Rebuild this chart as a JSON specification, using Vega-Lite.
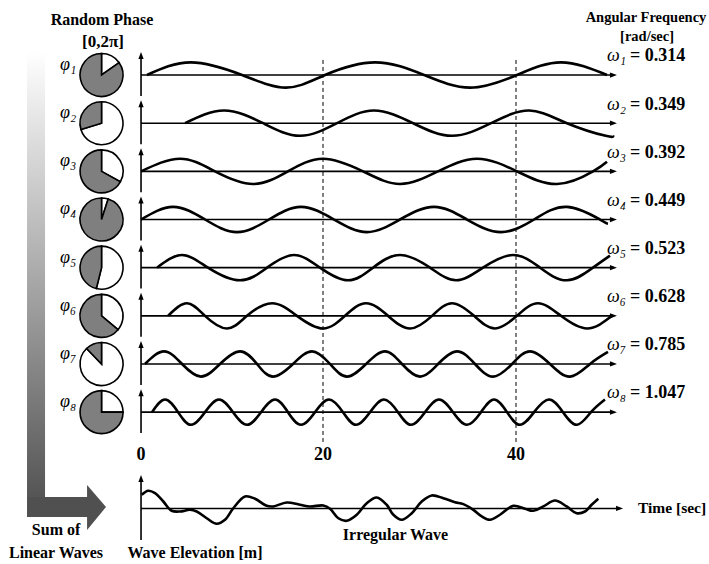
{
  "$schema": "https://vega.github.io/schema/vega-lite/v6.json",
  "width": 709,
  "height": 564,
  "padding": 0,
  "autosize": {"type": "none"},
  "background": "white",
  "config": {"view": {"stroke": null}},
  "datasets": {
    "waves": [
      {"w":1,"t":0.66,"y":36},{"w":1,"t":5.49,"y":37.05},{"w":1,"t":11.10,"y":36},{"w":1,"t":15.93,"y":34.95},{"w":1,"t":20.21,"y":36},{"w":1,"t":25.39,"y":37.05},{"w":1,"t":30.47,"y":36},{"w":1,"t":35.23,"y":34.95},{"w":1,"t":40.10,"y":36},{"w":1,"t":44.66,"y":37.05},{"w":1,"t":49.43,"y":36},
      {"w":2,"t":4.84,"y":32},{"w":2,"t":9.12,"y":33.05},{"w":2,"t":13.41,"y":32},{"w":2,"t":17.47,"y":30.95},{"w":2,"t":21.45,"y":32},{"w":2,"t":25.28,"y":33.05},{"w":2,"t":29.33,"y":32},{"w":2,"t":33.37,"y":30.95},{"w":2,"t":37.41,"y":32},{"w":2,"t":41.35,"y":33.05},{"w":2,"t":45.28,"y":32},{"w":2,"t":49.3,"y":30.95},{"w":2,"t":50.05,"y":30.98},
      {"w":3,"t":0,"y":28},{"w":3,"t":4.29,"y":29.05},{"w":3,"t":8.13,"y":28},{"w":3,"t":12.31,"y":26.95},{"w":3,"t":16.15,"y":28},{"w":3,"t":20,"y":29.05},{"w":3,"t":24.15,"y":28},{"w":3,"t":27.98,"y":26.95},{"w":3,"t":31.92,"y":28},{"w":3,"t":35.96,"y":29.05},{"w":3,"t":40.10,"y":28},{"w":3,"t":44.25,"y":26.95},{"w":3,"t":47.98,"y":28},{"w":3,"t":49.43,"y":28.8},
      {"w":4,"t":0,"y":24},{"w":4,"t":3.52,"y":25.05},{"w":4,"t":7.03,"y":24},{"w":4,"t":10.55,"y":22.95},{"w":4,"t":14.07,"y":24},{"w":4,"t":17.58,"y":25.05},{"w":4,"t":21.14,"y":24},{"w":4,"t":24.56,"y":22.95},{"w":4,"t":27.98,"y":24},{"w":4,"t":31.50,"y":25.05},{"w":4,"t":34.92,"y":24},{"w":4,"t":38.45,"y":22.95},{"w":4,"t":41.87,"y":24},{"w":4,"t":45.28,"y":25.05},{"w":4,"t":48.70,"y":24},{"w":4,"t":49.53,"y":23.65},
      {"w":5,"t":1.76,"y":20},{"w":5,"t":4.51,"y":21.05},{"w":5,"t":7.36,"y":20},{"w":5,"t":10.88,"y":18.95},{"w":5,"t":13.85,"y":20},{"w":5,"t":16.81,"y":21.05},{"w":5,"t":19.67,"y":20},{"w":5,"t":22.59,"y":18.95},{"w":5,"t":25.18,"y":20},{"w":5,"t":27.98,"y":21.05},{"w":5,"t":31.09,"y":20},{"w":5,"t":33.78,"y":18.95},{"w":5,"t":36.58,"y":20},{"w":5,"t":39.69,"y":21.05},{"w":5,"t":42.49,"y":20},{"w":5,"t":45.28,"y":18.95},{"w":5,"t":47.98,"y":20},{"w":5,"t":49.74,"y":21.0},
      {"w":6,"t":2.97,"y":16},{"w":6,"t":5.05,"y":17.05},{"w":6,"t":7.03,"y":16},{"w":6,"t":9.45,"y":14.95},{"w":6,"t":11.65,"y":16},{"w":6,"t":14.40,"y":17.05},{"w":6,"t":17.14,"y":16},{"w":6,"t":20,"y":14.95},{"w":6,"t":22.28,"y":16},{"w":6,"t":24.46,"y":17.05},{"w":6,"t":26.74,"y":16},{"w":6,"t":29.02,"y":14.95},{"w":6,"t":31.30,"y":16},{"w":6,"t":33.37,"y":17.05},{"w":6,"t":35.65,"y":16},{"w":6,"t":37.82,"y":14.95},{"w":6,"t":40.10,"y":16},{"w":6,"t":42.28,"y":17.05},{"w":6,"t":44.66,"y":16},{"w":6,"t":47.36,"y":14.95},{"w":6,"t":49.95,"y":16},
      {"w":7,"t":0.44,"y":12},{"w":7,"t":2.53,"y":13.05},{"w":7,"t":4.51,"y":12},{"w":7,"t":6.59,"y":10.95},{"w":7,"t":8.68,"y":12},{"w":7,"t":10.88,"y":13.05},{"w":7,"t":12.75,"y":12},{"w":7,"t":14.51,"y":10.95},{"w":7,"t":16.70,"y":12},{"w":7,"t":18.79,"y":13.05},{"w":7,"t":20.73,"y":12},{"w":7,"t":22.49,"y":10.95},{"w":7,"t":24.46,"y":12},{"w":7,"t":26.42,"y":13.05},{"w":7,"t":28.19,"y":12},{"w":7,"t":30.05,"y":10.95},{"w":7,"t":31.92,"y":12},{"w":7,"t":33.89,"y":13.05},{"w":7,"t":35.75,"y":12},{"w":7,"t":37.62,"y":10.95},{"w":7,"t":39.59,"y":12},{"w":7,"t":41.45,"y":13.05},{"w":7,"t":43.52,"y":12},{"w":7,"t":45.60,"y":10.95},{"w":7,"t":47.67,"y":12},{"w":7,"t":49.53,"y":13.0},
      {"w":8,"t":1.21,"y":8},{"w":8,"t":2.64,"y":9.05},{"w":8,"t":4.07,"y":8},{"w":8,"t":5.49,"y":6.95},{"w":8,"t":7.03,"y":8},{"w":8,"t":8.57,"y":9.05},{"w":8,"t":10.11,"y":8},{"w":8,"t":11.65,"y":6.95},{"w":8,"t":13.19,"y":8},{"w":8,"t":14.73,"y":9.05},{"w":8,"t":16.15,"y":8},{"w":8,"t":17.58,"y":6.95},{"w":8,"t":19.12,"y":8},{"w":8,"t":20.62,"y":9.05},{"w":8,"t":22.07,"y":8},{"w":8,"t":23.42,"y":6.95},{"w":8,"t":24.87,"y":8},{"w":8,"t":26.32,"y":9.05},{"w":8,"t":27.77,"y":8},{"w":8,"t":29.12,"y":6.95},{"w":8,"t":30.57,"y":8},{"w":8,"t":32.02,"y":9.05},{"w":8,"t":33.47,"y":8},{"w":8,"t":34.92,"y":6.95},{"w":8,"t":36.37,"y":8},{"w":8,"t":37.72,"y":9.05},{"w":8,"t":39.07,"y":8},{"w":8,"t":40.41,"y":6.95},{"w":8,"t":41.87,"y":8},{"w":8,"t":43.42,"y":9.05},{"w":8,"t":44.87,"y":8},{"w":8,"t":46.32,"y":6.95},{"w":8,"t":47.77,"y":8},{"w":8,"t":49.22,"y":9.05}
    ],
    "irregular": [
      {"t":0.08,"y":1.14},{"t":0.80,"y":1.47},{"t":1.54,"y":1.27},{"t":2.45,"y":0.58},{"t":3.37,"y":-0.19},{"t":4.29,"y":-0.25},{"t":5.38,"y":-0.11},{"t":6.12,"y":-0.25},{"t":7.22,"y":-0.81},{"t":8.32,"y":-1.27},{"t":9.23,"y":-0.94},{"t":10.14,"y":0.02},{"t":11.43,"y":1.0},{"t":12.53,"y":0.81},{"t":13.81,"y":0.22},{"t":14.54,"y":0.17},{"t":16.01,"y":0.50},{"t":17.47,"y":0.31},{"t":18.57,"y":0.17},{"t":20.03,"y":0.25},{"t":20.73,"y":-0.02},{"t":21.59,"y":-0.81},{"t":22.46,"y":-1.02},{"t":23.50,"y":-0.52},{"t":24.53,"y":0.44},{"t":25.57,"y":0.91},{"t":26.60,"y":0.31},{"t":27.29,"y":-0.52},{"t":28.16,"y":-0.94},{"t":29.20,"y":-0.39},{"t":30.23,"y":0.58},{"t":31.27,"y":1.08},{"t":32.47,"y":0.86},{"t":33.68,"y":0.52},{"t":34.54,"y":0.36},{"t":35.58,"y":-0.11},{"t":36.45,"y":-0.66},{"t":37.31,"y":-0.94},{"t":38.34,"y":-0.52},{"t":39.72,"y":0.22},{"t":40.93,"y":-0.02},{"t":41.79,"y":-0.19},{"t":42.83,"y":0.17},{"t":44.04,"y":0.66},{"t":45.25,"y":0.17},{"t":46.29,"y":-0.39},{"t":47.15,"y":-0.25},{"t":47.84,"y":0.31},{"t":48.53,"y":0.81}
    ],
    "haxes": [
      {"t":0,"t2":50.1,"y":36},{"t":0,"t2":50.1,"y":32},{"t":0,"t2":50.1,"y":28},{"t":0,"t2":50.1,"y":24},{"t":0,"t2":50.1,"y":20},{"t":0,"t2":50.1,"y":16},{"t":0,"t2":50.1,"y":12},{"t":0,"t2":50.1,"y":8},{"t":0,"t2":50.73,"y":0}
    ],
    "vaxes": [
      {"t":0,"y":34.26,"y2":37.62},{"t":0,"y":30.26,"y2":33.62},{"t":0,"y":26.26,"y2":29.62},{"t":0,"y":22.26,"y2":25.62},{"t":0,"y":18.26,"y2":21.62},{"t":0,"y":14.26,"y2":17.62},{"t":0,"y":10.26,"y2":13.62},{"t":0,"y":6.26,"y2":9.62},{"t":0,"y":-2.62,"y2":2.49}
    ],
    "rarrows": [
      {"t":50.1,"y":36},{"t":50.1,"y":32},{"t":50.1,"y":28},{"t":50.1,"y":24},{"t":50.1,"y":20},{"t":50.1,"y":16},{"t":50.1,"y":12},{"t":50.1,"y":8},{"t":50.73,"y":0}
    ],
    "uarrows": [
      {"t":0,"y":37.62},{"t":0,"y":33.62},{"t":0,"y":29.62},{"t":0,"y":25.62},{"t":0,"y":21.62},{"t":0,"y":17.62},{"t":0,"y":13.62},{"t":0,"y":9.62},{"t":0,"y":2.49}
    ],
    "dashes": [
      {"t":20,"y":37.25,"y2":5.5},{"t":40,"y":37.25,"y2":5.5}
    ],
    "pies": [
      {"k":1,"t":-4.34,"y":36,"a0":0,"a1":0.960,"part":"rest"},{"k":1,"t":-4.34,"y":36,"a0":0.960,"a1":6.2832,"part":"phase"},
      {"k":2,"t":-4.34,"y":32,"a0":0,"a1":4.416,"part":"rest"},{"k":2,"t":-4.34,"y":32,"a0":4.416,"a1":6.2832,"part":"phase"},
      {"k":3,"t":-4.34,"y":28,"a0":0,"a1":2.077,"part":"rest"},{"k":3,"t":-4.34,"y":28,"a0":2.077,"a1":6.2832,"part":"phase"},
      {"k":4,"t":-4.34,"y":24,"a0":0,"a1":0.314,"part":"rest"},{"k":4,"t":-4.34,"y":24,"a0":0.314,"a1":6.2832,"part":"phase"},
      {"k":5,"t":-4.34,"y":20,"a0":0,"a1":3.386,"part":"rest"},{"k":5,"t":-4.34,"y":20,"a0":3.386,"a1":6.2832,"part":"phase"},
      {"k":6,"t":-4.34,"y":16,"a0":0,"a1":2.269,"part":"rest"},{"k":6,"t":-4.34,"y":16,"a0":2.269,"a1":6.2832,"part":"phase"},
      {"k":7,"t":-4.34,"y":12,"a0":0,"a1":5.515,"part":"rest"},{"k":7,"t":-4.34,"y":12,"a0":5.515,"a1":6.2832,"part":"phase"},
      {"k":8,"t":-4.34,"y":8,"a0":0,"a1":1.571,"part":"rest"},{"k":8,"t":-4.34,"y":8,"a0":1.571,"a1":6.2832,"part":"phase"}
    ],
    "phis": [
      {"label":"φ₁","t":-8.9,"y":36.84},{"label":"φ₂","t":-8.9,"y":32.84},{"label":"φ₃","t":-8.9,"y":28.84},{"label":"φ₄","t":-8.9,"y":24.84},{"label":"φ₅","t":-8.9,"y":20.84},{"label":"φ₆","t":-8.9,"y":16.84},{"label":"φ₇","t":-8.9,"y":12.84},{"label":"φ₈","t":-8.9,"y":8.84}
    ],
    "omegas": [
      {"label":"ω₁","t":49.43,"y":37.55},{"label":"ω₂","t":49.43,"y":33.55},{"label":"ω₃","t":49.43,"y":29.55},{"label":"ω₄","t":49.43,"y":25.55},{"label":"ω₅","t":49.43,"y":21.55},{"label":"ω₆","t":49.43,"y":17.55},{"label":"ω₇","t":49.43,"y":13.55},{"label":"ω₈","t":49.43,"y":9.55}
    ],
    "freqs": [
      {"label":"= 0.314","t":51.81,"y":37.55},{"label":"= 0.349","t":51.81,"y":33.55},{"label":"= 0.392","t":51.81,"y":29.55},{"label":"= 0.449","t":51.81,"y":25.55},{"label":"= 0.523","t":51.81,"y":21.55},{"label":"= 0.628","t":51.81,"y":17.55},{"label":"= 0.785","t":51.81,"y":13.55},{"label":"= 1.047","t":51.81,"y":9.55}
    ],
    "titles16": [
      {"label":"Random Phase","t":-4.29,"y":40.57},{"label":"Sum of","t":-9.34,"y":-1.79},{"label":"Linear Waves","t":-9.34,"y":-3.67},{"label":"Wave Elevation [m]","t":5.93,"y":-3.67},{"label":"Irregular Wave","t":27.51,"y":-2.2}
    ],
    "titles14": [
      {"label":"Angular Frequency","t":53.47,"y":40.74},{"label":"[rad/sec]","t":53.58,"y":39.16}
    ],
    "phaserange": [{"label":"[0,2π]","t":-4.18,"y":38.75}],
    "ticks": [{"label":"0","t":0,"y":4.44},{"label":"20","t":20,"y":4.44},{"label":"40","t":40,"y":4.44}],
    "timelabel": [{"label":"Time [sec]","t":52.64,"y":0}],
    "vbar": [{"t":-12.53,"t2":-10.55,"y":37.92,"y2":0.96}],
    "hbar": [{"t":-12.53,"t2":-5.82,"y":0.96,"y2":-0.71}],
    "head": [{"t":-5.93,"y":1.95,"y2":-1.79},{"t":-3.85,"y":0.125,"y2":0.125}]
  },
  "encoding": {
    "x": {"field":"t","type":"quantitative","scale":{"domain":[-15.5,20,60],"range":[0,323,709],"nice":false,"zero":false},"axis":null},
    "y": {"field":"y","type":"quantitative","scale":{"domain":[-4.61,42.23],"nice":false,"zero":false},"axis":null}
  },
  "layer": [
    {"data":{"name":"vbar"},"mark":{"type":"rect","color":{"gradient":"linear","x1":0,"y1":0,"x2":0,"y2":1,"stops":[{"offset":0,"color":"#ffffff"},{"offset":1,"color":"#555555"}]}},"encoding":{"x2":{"field":"t2"},"y2":{"field":"y2"}}},
    {"data":{"name":"hbar"},"mark":{"type":"rect","color":"#505050"},"encoding":{"x2":{"field":"t2"},"y2":{"field":"y2"}}},
    {"data":{"name":"head"},"mark":{"type":"area","color":"#505050","interpolate":"linear"},"encoding":{"y2":{"field":"y2"}}},
    {"data":{"name":"dashes"},"mark":{"type":"rule","color":"#000","strokeWidth":1,"strokeDash":[4,3]},"encoding":{"y2":{"field":"y2"}}},
    {"data":{"name":"haxes"},"mark":{"type":"rule","color":"#000","strokeWidth":1.6},"encoding":{"x2":{"field":"t2"}}},
    {"data":{"name":"vaxes"},"mark":{"type":"rule","color":"#000","strokeWidth":1.6},"encoding":{"y2":{"field":"y2"}}},
    {"data":{"name":"rarrows"},"mark":{"type":"point","shape":"M-1,-0.75L1,0L-1,0.75Z","filled":true,"color":"#000","size":49,"opacity":1}},
    {"data":{"name":"uarrows"},"mark":{"type":"point","shape":"M-0.75,1L0,-1L0.75,1Z","filled":true,"color":"#000","size":49,"opacity":1}},
    {"data":{"name":"waves"},"mark":{"type":"line","color":"#000","strokeWidth":2.6,"interpolate":"natural"},"encoding":{"detail":{"field":"w","type":"nominal"}}},
    {"data":{"name":"irregular"},"mark":{"type":"line","color":"#000","strokeWidth":2.6,"interpolate":"catmull-rom"},"encoding":{}},
    {"data":{"name":"pies"},"mark":{"type":"arc","radius":21.5,"stroke":"#000","strokeWidth":1.6},"encoding":{"theta":{"field":"a0","type":"quantitative","scale":null,"stack":null},"theta2":{"field":"a1"},"fill":{"field":"part","type":"nominal","scale":{"domain":["phase","rest"],"range":["#7f7f7f","#ffffff"]},"legend":null}}},
    {"data":{"name":"titles16"},"mark":{"type":"text","font":"Liberation Serif","fontWeight":"bold","fontSize":16,"align":"center","baseline":"middle","color":"#000"},"encoding":{"text":{"field":"label"}}},
    {"data":{"name":"titles14"},"mark":{"type":"text","font":"Liberation Serif","fontWeight":"bold","fontSize":14.5,"align":"center","baseline":"middle","color":"#000"},"encoding":{"text":{"field":"label"}}},
    {"data":{"name":"phaserange"},"mark":{"type":"text","font":"Liberation Serif","fontWeight":"bold","fontSize":17,"align":"center","baseline":"middle","color":"#000"},"encoding":{"text":{"field":"label"}}},
    {"data":{"name":"ticks"},"mark":{"type":"text","font":"Liberation Serif","fontWeight":"bold","fontSize":18,"align":"center","baseline":"middle","color":"#000"},"encoding":{"text":{"field":"label"}}},
    {"data":{"name":"timelabel"},"mark":{"type":"text","font":"Liberation Serif","fontWeight":"bold","fontSize":15.5,"align":"left","baseline":"middle","color":"#000"},"encoding":{"text":{"field":"label"}}},
    {"data":{"name":"phis"},"mark":{"type":"text","font":"Liberation Serif","fontStyle":"italic","fontSize":18,"align":"left","baseline":"middle","color":"#000"},"encoding":{"text":{"field":"label"}}},
    {"data":{"name":"omegas"},"mark":{"type":"text","font":"Liberation Serif","fontStyle":"italic","fontSize":18,"align":"left","baseline":"middle","color":"#000"},"encoding":{"text":{"field":"label"}}},
    {"data":{"name":"freqs"},"mark":{"type":"text","font":"Liberation Serif","fontWeight":"bold","fontSize":18,"align":"left","baseline":"middle","color":"#000"},"encoding":{"text":{"field":"label"}}}
  ]
}
